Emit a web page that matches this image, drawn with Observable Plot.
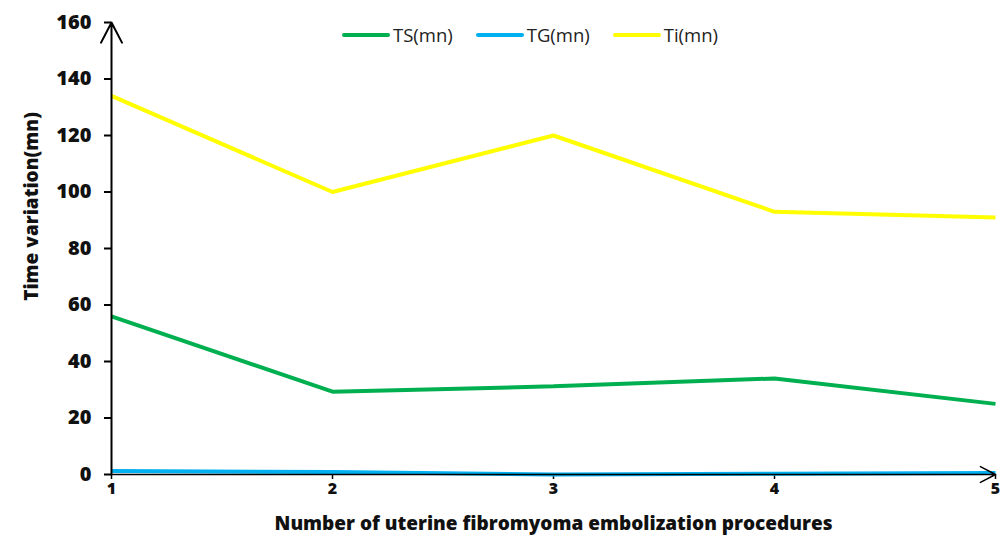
<!DOCTYPE html>
<html>
<head>
<meta charset="utf-8">
<script src="https://cdn.jsdelivr.net/npm/d3@7"></script>
<script src="https://cdn.jsdelivr.net/npm/@observablehq/plot@0.6"></script>
<style>
  html, body { margin: 0; padding: 0; background: #fff; }
  #wrap { position: relative; width: 1005px; height: 536px; font-family: "Open Sans", sans-serif; }
  #legend { position: absolute; top: 22px; left: 342px; display: flex; font-size: 18.5px; color: #222; line-height: 26px; }
  .item { display: flex; align-items: center; margin-right: 23px; }
  .sw { width: 48px; height: 4px; border-radius: 2px; margin-right: 3px; }
</style>
</head>
<body>
<div id="wrap"><div id="legend"></div></div>
<script>
const procedures = [1, 2, 3, 4, 5];
const seriesNames = ["TS(mn)", "TG(mn)", "Ti(mn)"];
const seriesColors = ["#00B050", "#00B0F0", "#FFFF00"];
const TS = [56, 29.3, 31.2, 34, 25];
const TG = [1.2, 0.9, 0, 0.3, 0.5];
const Ti = [134, 100, 120, 93, 91];
const yTicks = [0, 20, 40, 60, 80, 100, 120, 140, 160];
const yMax = 160;

const values = [TS, TG, Ti];
const table = [];
seriesNames.forEach((s, i) => procedures.forEach((p, j) => table.push({series: s, x: p, y: values[i][j]})));

const font = "'Open Sans', sans-serif";
const chart = Plot.plot({
  width: 1005,
  height: 536,
  marginLeft: 111,
  marginRight: 10,
  marginTop: 22,
  marginBottom: 62,
  style: {fontFamily: font, background: "transparent", overflow: "visible"},
  x: {domain: [procedures[0], procedures[procedures.length - 1]]},
  y: {domain: [0, yMax]},
  color: {domain: seriesNames, range: seriesColors},
  marks: [
    Plot.axisY({ticks: yTicks, tickSize: 7, tickPadding: 13, stroke: "#000", strokeWidth: 2, fontSize: 20, fontWeight: 800, fill: "#111", label: null}),
    Plot.axisX({ticks: procedures, tickSize: 5, tickPadding: 3, stroke: "#000", strokeWidth: 1.5, fontSize: 16, fontWeight: 800, fill: "#111", tickFormat: d => String(d), label: null}),
    Plot.text(["Time variation(mn)"], {frameAnchor: "left", textAnchor: "middle", rotate: -90, dx: -80, dy: -42, fontSize: 19, fontWeight: 800, fill: "#111"}),
    Plot.text(["Number of uterine fibromyoma embolization procedures"], {frameAnchor: "bottom", lineAnchor: "middle", dy: 49, fontSize: 19, fontWeight: 800, fill: "#111"}),
    Plot.line(table, {x: "x", y: "y", z: "series", stroke: "series", strokeWidth: 4, strokeLinejoin: "miter", strokeLinecap: "butt"}),
    Plot.arrow([{x1: procedures[0], y1: 0, x2: procedures[0], y2: yMax}], {x1: "x1", y1: "y1", x2: "x2", y2: "y2", stroke: "#000", strokeWidth: 2, headLength: 17, headAngle: 55}),
    Plot.arrow([{x1: procedures[0], y1: 0, x2: procedures[procedures.length - 1], y2: 0}], {x1: "x1", y1: "y1", x2: "x2", y2: "y2", stroke: "#000", strokeWidth: 1.5, headLength: 17, headAngle: 55})
  ]
});
chart.style.position = "absolute";
chart.style.left = "0";
chart.style.top = "0";
const wrap = document.getElementById("wrap");
wrap.insertBefore(chart, wrap.firstChild);

const legend = document.getElementById("legend");
seriesNames.forEach((s, i) => {
  const it = document.createElement("div");
  it.className = "item";
  it.innerHTML = `<span class="sw" style="background:${seriesColors[i]}"></span><span>${s}</span>`;
  legend.appendChild(it);
});
</script>
</body>
</html>
